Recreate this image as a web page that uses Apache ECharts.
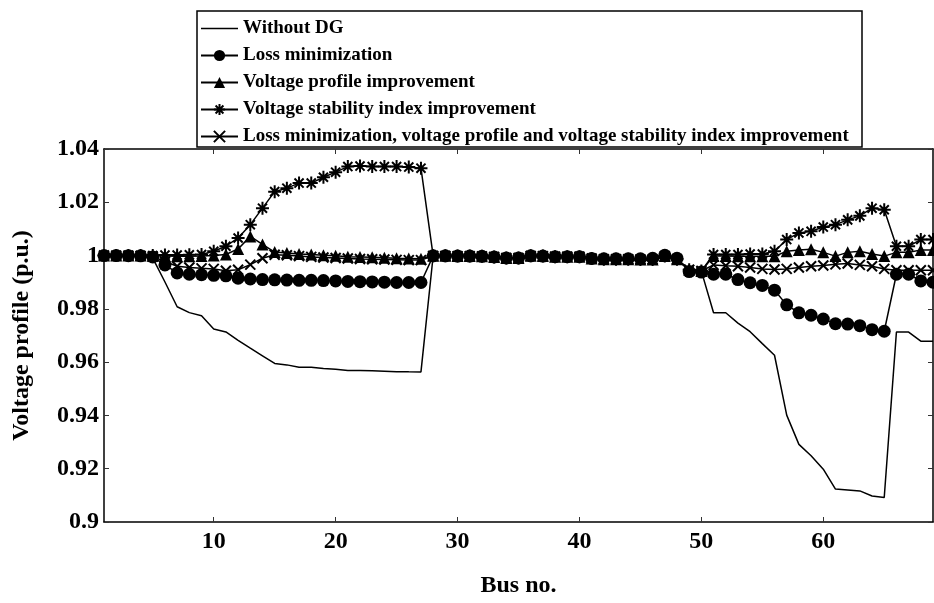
<!DOCTYPE html>
<html>
<head>
<meta charset="utf-8">
<title>Voltage profile</title>
<script src="https://cdn.jsdelivr.net/npm/echarts@6/dist/echarts.min.js"></script>
<style>
  html, body { margin: 0; padding: 0; background: #fff; }
  #chart { width: 934px; height: 603px; }
</style>
</head>
<body>
<div id="chart"></div>
<script>
// bus numbers (x axis)
const buses = [1, 2, 3, 4, 5, 6, 7, 8, 9, 10, 11, 12, 13, 14, 15, 16, 17, 18, 19, 20,
  21, 22, 23, 24, 25, 26, 27, 28, 29, 30, 31, 32, 33, 34, 35, 36, 37, 38, 39, 40,
  41, 42, 43, 44, 45, 46, 47, 48, 49, 50, 51, 52, 53, 54, 55, 56, 57, 58, 59, 60,
  61, 62, 63, 64, 65, 66, 67, 68, 69]
const xTicks = [10, 20, 30, 40, 50, 60]

const withoutDG = [1.0000, 0.99997, 0.99993, 0.99984, 0.99902, 0.99009, 0.98079, 0.97858, 0.97745, 0.97245,
  0.97135, 0.96819, 0.96526, 0.96237, 0.95950, 0.95897, 0.95809, 0.95808, 0.95761, 0.95732,
  0.95683, 0.95683, 0.95676, 0.95660, 0.95643, 0.95636, 0.95634, 0.99993, 0.99985, 0.99973,
  0.99971, 0.99961, 0.99935, 0.99901, 0.99895, 0.99992, 0.99975, 0.99959, 0.99954, 0.99954,
  0.99884, 0.99855, 0.99851, 0.99850, 0.99841, 0.99840, 0.99979, 0.99854, 0.99470, 0.99415,
  0.97854, 0.97853, 0.97466, 0.97142, 0.96695, 0.96258, 0.94011, 0.92913, 0.92486, 0.91984,
  0.91234, 0.91205, 0.91167, 0.90977, 0.90919, 0.97129, 0.97129, 0.96786, 0.96786]

const lossMin = [1.0000, 0.99999, 0.99997, 0.9999, 0.9995, 0.9965, 0.9935, 0.9930, 0.9928, 0.9926,
  0.9924, 0.9915, 0.9912, 0.9910, 0.9909, 0.9908, 0.9907, 0.9907, 0.9906, 0.9905,
  0.9903, 0.9902, 0.9901, 0.9900, 0.9899, 0.9899, 0.9899, 0.9999, 0.9999, 0.9998,
  0.9998, 0.9997, 0.9995, 0.9991, 0.9991, 0.9999, 0.9998, 0.9996, 0.9996, 0.9996,
  0.9989, 0.9988, 0.9988, 0.9988, 0.9988, 0.9990, 1.0001, 0.9990, 0.9940, 0.9938,
  0.9930, 0.9930, 0.9910, 0.9898, 0.9888, 0.9870, 0.9815, 0.9785, 0.9776, 0.9762,
  0.9744, 0.9743, 0.9737, 0.9722, 0.9716, 0.9930, 0.9930, 0.9905, 0.9900]

const vpImprove = [1.0000, 1.0000, 1.0000, 1.0000, 0.9999, 0.9998, 0.9997, 0.9997, 0.9998, 1.0000,
  1.0004, 1.0025, 1.0072, 1.0042, 1.0013, 1.0010, 1.0006, 1.0004, 1.0001, 0.9999,
  0.9996, 0.9995, 0.9994, 0.9992, 0.9990, 0.9989, 0.9988, 0.9999, 0.9999, 0.9998,
  0.9998, 0.9997, 0.9995, 0.9991, 0.9991, 0.9999, 0.9998, 0.9996, 0.9996, 0.9996,
  0.9989, 0.9986, 0.9986, 0.9986, 0.9985, 0.9985, 0.9998, 0.9986, 0.9947, 0.9942,
  0.9998, 0.9998, 0.9997, 0.9997, 0.9997, 0.9997, 1.0016, 1.0021, 1.0024, 1.0012,
  0.9998, 1.0012, 1.0016, 1.0006, 0.9998, 1.0012, 1.0012, 1.0021, 1.0021]

const vsiImprove = [1.0000, 1.0000, 1.0000, 1.0000, 1.0000, 1.0002, 1.0002, 1.0003, 1.0004, 1.0016,
  1.0035, 1.0066, 1.0116, 1.0178, 1.0240, 1.0253, 1.0272, 1.0272, 1.0294, 1.0313,
  1.0334, 1.0336, 1.0334, 1.0334, 1.0334, 1.0332, 1.0328, 0.9999, 0.9999, 0.9998,
  0.9998, 0.9997, 0.9995, 0.9991, 0.9991, 0.9999, 0.9998, 0.9996, 0.9996, 0.9996,
  0.9989, 0.9986, 0.9986, 0.9986, 0.9985, 0.9985, 0.9998, 0.9986, 0.9947, 0.9942,
  1.0004, 1.0004, 1.0004, 1.0006, 1.0006, 1.0016, 1.0060, 1.0085, 1.0091, 1.0107,
  1.0116, 1.0134, 1.0149, 1.0178, 1.0172, 1.0035, 1.0035, 1.0060, 1.0060]

const combined = [1.0000, 0.99999, 0.99997, 0.9999, 0.9996, 0.9978, 0.9960, 0.9955, 0.9952, 0.9950,
  0.9943, 0.9947, 0.9966, 0.9990, 1.0003, 1.0001, 0.9998, 0.9995, 0.9993, 0.9991,
  0.9989, 0.9987, 0.9986, 0.9985, 0.9984, 0.9983, 0.9983, 0.9999, 0.9999, 0.9998,
  0.9998, 0.9997, 0.9995, 0.9991, 0.9991, 0.9999, 0.9998, 0.9996, 0.9996, 0.9996,
  0.9989, 0.9986, 0.9986, 0.9986, 0.9985, 0.9985, 0.9998, 0.9986, 0.9947, 0.9942,
  0.9965, 0.9962, 0.9960, 0.9955, 0.9950, 0.9948, 0.9950, 0.9955, 0.9960, 0.9963,
  0.9967, 0.9970, 0.9965, 0.9960, 0.9950, 0.9945, 0.9945, 0.9945, 0.9945]

const seriesNames = [
  'Without DG',
  'Loss minimization',
  'Voltage profile improvement',
  'Voltage stability index improvement',
  'Loss minimization, voltage profile and voltage stability index improvement'
]

const FONT = 'Liberation Serif'
const starPath = 'path://M6 0L6 12M0 6L12 6M1.8 1.8L10.2 10.2M10.2 1.8L1.8 10.2'
const crossPath = 'path://M0 0L10 10M10 0L0 10'
// plain line for the legend entry of the series without markers
const plainLineIcon = 'path://M0 0L37 0L37 1.5L0 1.5Z'

function pairs(values) {
  return buses.map((b, i) => [b, values[i]])
}

function makeSeries(name, values, symbol, size, stroked) {
  return {
    name: name,
    type: 'line',
    data: pairs(values),
    symbol: symbol,
    symbolSize: size,
    showSymbol: symbol !== 'none',
    lineStyle: { color: '#000', width: 1.5 },
    itemStyle: stroked
      ? { color: '#000', borderColor: '#000', borderWidth: 2 }
      : { color: '#000' },
    emphasis: { disabled: true }
  }
}

const chart = echarts.init(document.getElementById('chart'), null, { renderer: 'canvas' })

const tickStyle = { show: true, inside: true, length: 5, lineStyle: { color: '#333', width: 1 } }
const axisLineStyle = { show: true, lineStyle: { color: '#000', width: 1.5 } }

chart.setOption({
  animation: false,
  backgroundColor: '#fff',
  grid: { left: 104, right: 1, top: 149, bottom: 80 },
  legend: {
    orient: 'vertical',
    left: 200,
    top: 19,
    padding: 0,
    itemWidth: 37,
    itemHeight: 14,
    itemGap: 8,
    data: [{ name: seriesNames[0], icon: plainLineIcon }].concat(seriesNames.slice(1)),
    selectedMode: false,
    textStyle: { fontFamily: FONT, fontWeight: 'bold', fontSize: 19, color: '#000', lineHeight: 18 }
  },
  graphic: [{
    type: 'rect',
    z: 3,
    shape: { x: 197, y: 11, width: 665, height: 136 },
    style: { fill: '#fff', stroke: '#000', lineWidth: 1.5 }
  }],
  xAxis: [{
    type: 'value',
    min: 1,
    max: 69,
    name: 'Bus no.',
    nameLocation: 'middle',
    nameGap: 52,
    nameTextStyle: { fontFamily: FONT, fontWeight: 'bold', fontSize: 24, color: '#000' },
    axisLine: axisLineStyle,
    axisTick: Object.assign({ customValues: xTicks }, tickStyle),
    axisLabel: {
      customValues: xTicks,
      margin: 8,
      fontFamily: FONT, fontWeight: 'bold', fontSize: 24, color: '#000'
    },
    splitLine: { show: false }
  }, {
    type: 'value',
    position: 'top',
    min: 1,
    max: 69,
    axisLine: axisLineStyle,
    axisTick: Object.assign({ customValues: xTicks }, tickStyle),
    axisLabel: { show: false },
    splitLine: { show: false }
  }],
  yAxis: [{
    type: 'value',
    min: 0.9,
    max: 1.04,
    interval: 0.02,
    name: 'Voltage profile (p.u.)',
    nameLocation: 'middle',
    nameGap: 70,
    nameTextStyle: { fontFamily: FONT, fontWeight: 'bold', fontSize: 24, color: '#000' },
    axisLine: axisLineStyle,
    axisTick: tickStyle,
    axisLabel: {
      margin: 5,
      fontFamily: FONT, fontWeight: 'bold', fontSize: 24, color: '#000',
      formatter: v => String(+v.toFixed(2))
    },
    splitLine: { show: false }
  }, {
    type: 'value',
    position: 'right',
    min: 0.9,
    max: 1.04,
    interval: 0.02,
    axisLine: axisLineStyle,
    axisTick: tickStyle,
    axisLabel: { show: false },
    splitLine: { show: false }
  }],
  series: [
    makeSeries(seriesNames[0], withoutDG, 'none', 0, false),
    makeSeries(seriesNames[1], lossMin, 'circle', 13, false),
    makeSeries(seriesNames[2], vpImprove, 'triangle', 12, false),
    makeSeries(seriesNames[3], vsiImprove, starPath, 13, true),
    makeSeries(seriesNames[4], combined, crossPath, 10, true)
  ]
})
</script>
</body>
</html>
